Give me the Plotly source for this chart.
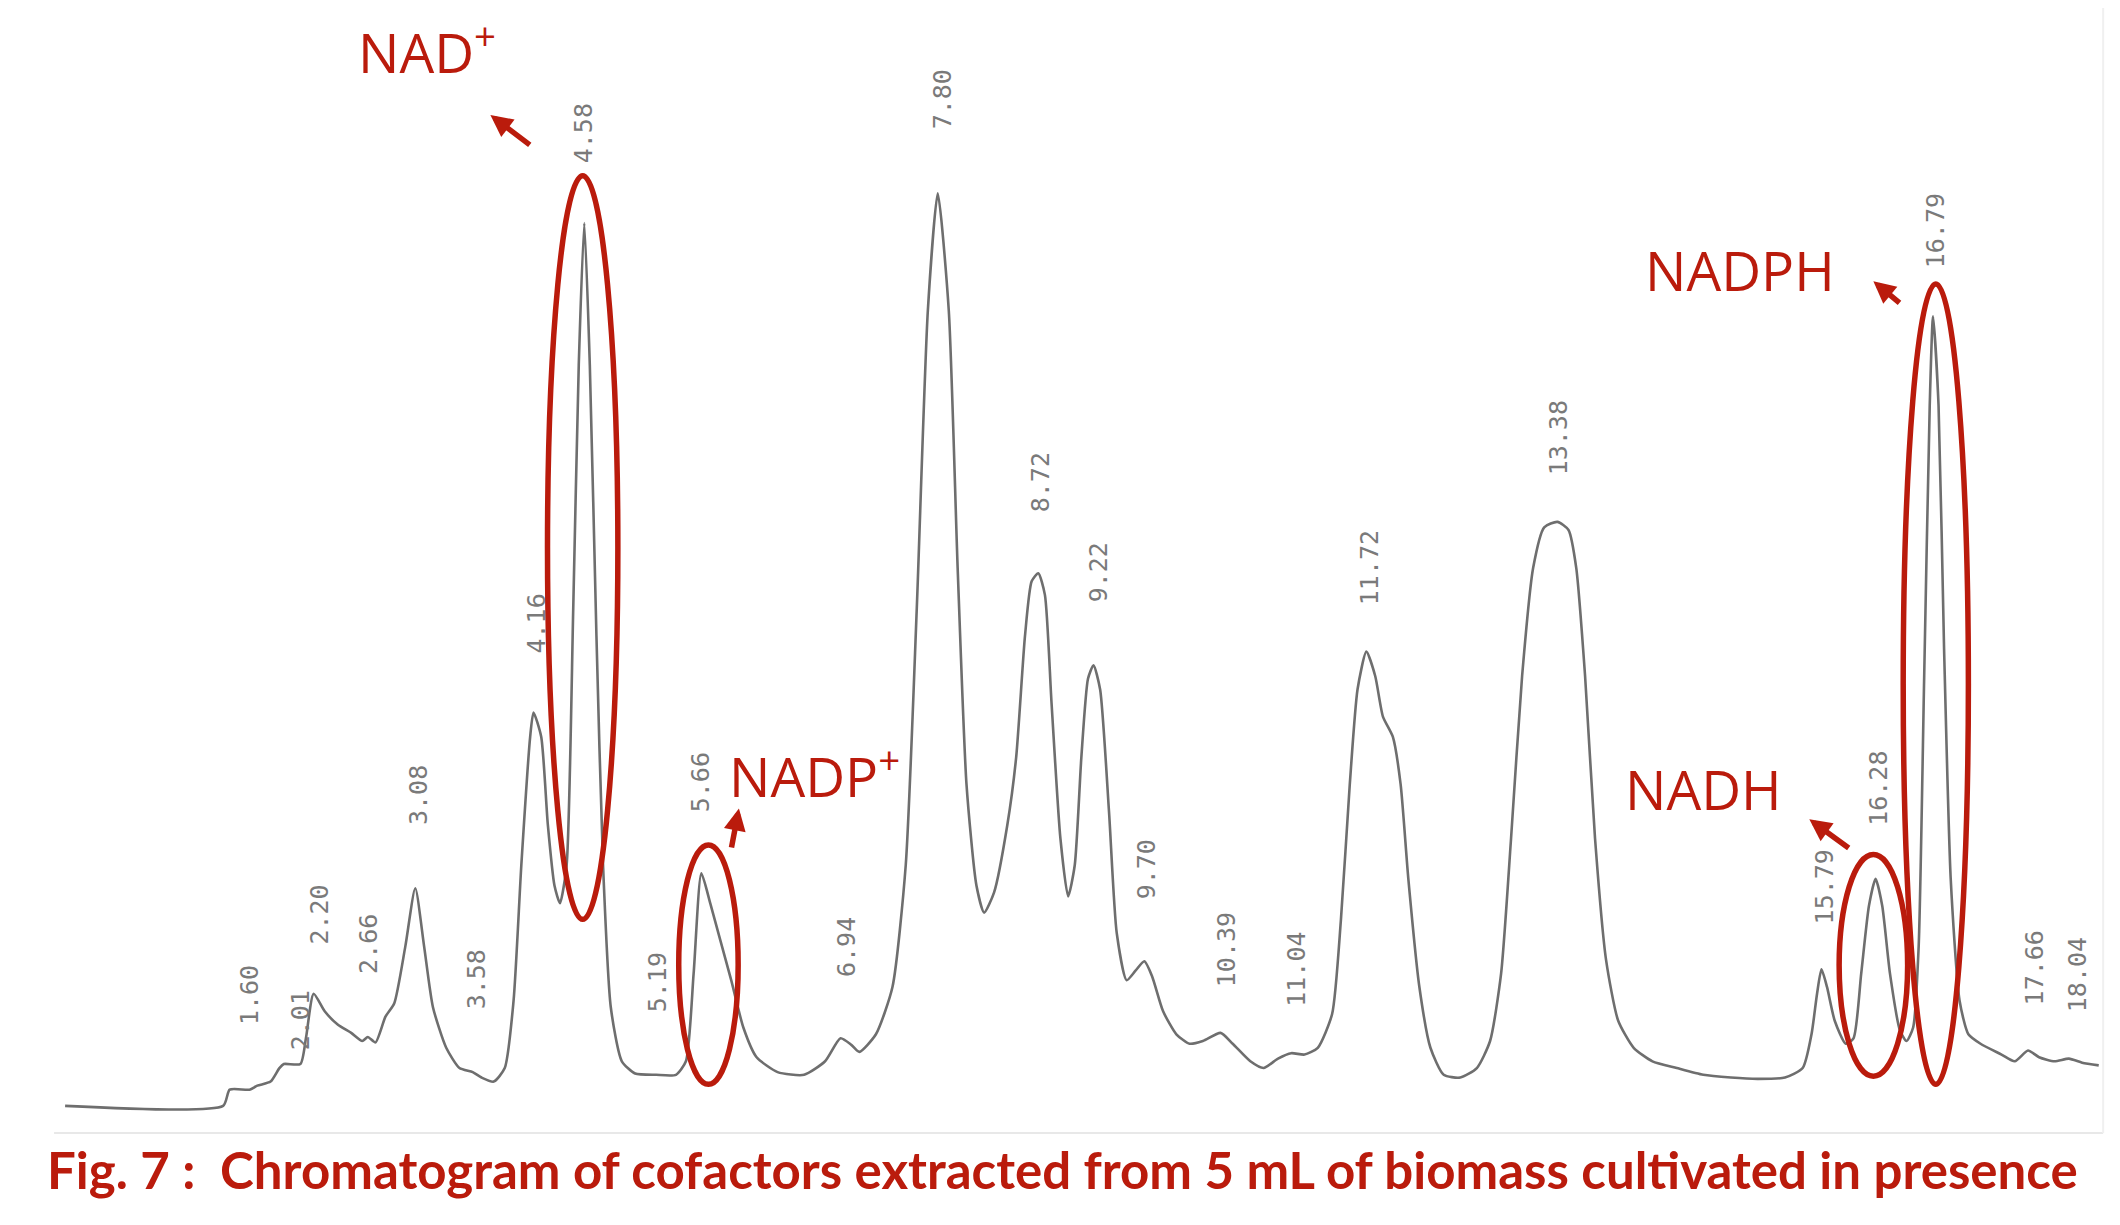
import plotly.graph_objects as go

# ---- trace: retention time (min) and detector signal (a.u.) ----
time_min = [-0.12, 1.31, 1.37, 1.55, 1.62, 1.74, 1.82, 1.86, 2.01, 2.06, 2.13, 2.23, 2.35, 2.47, 2.57,
            2.62, 2.69, 2.78, 2.86, 2.96, 3.05, 3.13, 3.21, 3.33, 3.45, 3.57, 3.65, 3.76, 3.86, 3.94,
            4.01, 4.09, 4.12, 4.19, 4.25, 4.31, 4.36, 4.42, 4.48, 4.53, 4.58, 4.63, 4.69, 4.75, 4.82,
            4.92, 5.04, 5.23, 5.41, 5.50, 5.57, 5.64, 5.72, 5.81, 5.91, 6.02, 6.14, 6.33, 6.57, 6.76,
            6.90, 7.00, 7.07, 7.22, 7.37, 7.49, 7.59, 7.69, 7.78, 7.88, 7.96, 8.04, 8.13, 8.20, 8.29,
            8.41, 8.49, 8.57, 8.63, 8.69, 8.75, 8.81, 8.89, 8.96, 9.02, 9.08, 9.14, 9.19, 9.25, 9.33,
            9.40, 9.49, 9.57, 9.65, 9.72, 9.82, 9.94, 10.06, 10.18, 10.34, 10.45, 10.61, 10.73, 10.86,
            10.98, 11.10, 11.22, 11.35, 11.43, 11.51, 11.58, 11.66, 11.74, 11.81, 11.90, 11.97, 12.04,
            12.14, 12.24, 12.36, 12.51, 12.66, 12.78, 12.88, 12.97, 13.07, 13.17, 13.27, 13.39, 13.49,
            13.56, 13.64, 13.73, 13.83, 13.94, 14.08, 14.25, 14.47, 14.71, 14.96, 15.20, 15.45, 15.61,
            15.69, 15.74, 15.78, 15.83, 15.90, 16.00, 16.07, 16.14, 16.21, 16.27, 16.33, 16.40, 16.49,
            16.55, 16.61, 16.66, 16.71, 16.76, 16.79, 16.84, 16.89, 16.95, 17.03, 17.11, 17.22, 17.41,
            17.53, 17.65, 17.75, 17.89, 18.02, 18.14, 18.29]
signal = [0, 0, 12, 12, 15, 18, 28, 31, 31, 50, 83, 70, 60, 54, 48,
          51, 47, 66, 76, 118, 161, 118, 73, 43, 28, 25, 21, 18, 28, 78,
          178, 273, 291, 273, 208, 163, 150, 178, 368, 548, 653, 548, 348, 178, 73,
          33, 24, 23, 23, 33, 98, 172, 150, 123, 93, 58, 36, 25, 23, 33,
          50, 45, 40, 53, 88, 178, 368, 588, 675, 588, 398, 238, 163, 143, 158,
          208, 258, 348, 388, 394, 378, 298, 198, 155, 178, 258, 316, 326, 308, 218,
          128, 93, 100, 107, 96, 70, 53, 46, 48, 54, 46, 33, 28, 35,
          39, 38, 43, 68, 138, 238, 308, 336, 318, 288, 273, 238, 168,
          88, 43, 23, 21, 28, 48, 98, 198, 318, 398, 428, 432, 426,
          398, 318, 198, 108, 63, 43, 33, 28, 23, 21, 20, 21, 28,
          53, 83, 101, 88, 63, 46, 50, 98, 148, 168, 148, 98, 56,
          48, 58, 118, 318, 518, 584, 518, 338, 168, 78, 53, 46, 38,
          33, 41, 36, 33, 35, 32, 30]

# ---- printed retention-time labels ----
rt_labels = ["1.60", "2.01", "2.20", "2.66", "3.08", "3.58", "4.16", "4.58", "5.19", "5.66",
             "6.94", "7.80", "8.72", "9.22", "9.70", "10.39", "11.04", "11.72", "13.38",
             "15.79", "16.28", "16.79", "17.66", "18.04"]
rt_label_x = [1.55, 2.01, 2.18, 2.62, 3.08, 3.60, 4.15, 4.58, 5.25, 5.64,
              6.96, 7.82, 8.71, 9.23, 9.67, 10.39, 11.02, 11.69, 13.40,
              15.81, 16.30, 16.82, 17.71, 18.10]
rt_label_y = [58, 40, 118, 96, 206, 70, 333, 696, 68, 216,
              94, 721, 438, 371, 151, 86, 72, 369, 465,
              133, 206, 618, 73, 68]

# ---- cofactor annotations ----
cofactors = ["NAD<sup>+</sup>", "NADP<sup>+</sup>", "NADPH", "NADH"]

RED = "#BA1B0C"
GRAY = "#6E6E6E"

fig = go.Figure()
fig.add_trace(go.Scatter(x=time_min, y=signal, mode="lines",
                         line=dict(color=GRAY, width=2.6, shape="spline", smoothing=0.6),
                         hoverinfo="skip", showlegend=False))

annotations = []
for txt, x, y in zip(rt_labels, rt_label_x, rt_label_y):
    annotations.append(dict(x=x, y=y, text=txt, textangle=-90, showarrow=False,
                            xanchor="center", yanchor="bottom",
                            font=dict(family="DejaVu Sans Mono", size=25, color="#7A7A7A")))

# cofactor names
name_pos = [(2.51, 782), (5.87, 246), (14.16, 619), (13.98, 235)]
for txt, (x, y) in zip(cofactors, name_pos):
    annotations.append(dict(x=x, y=y, text=txt, showarrow=False, xanchor="left", yanchor="middle",
                            font=dict(family="Open Sans", size=55, color=RED)))

# arrows (tail -> head)
arrows = [((4.10, 710), (3.73, 733)), ((5.91, 190), (5.98, 220)),
          ((16.04, 190), (15.67, 212)), ((16.50, 593), (16.25, 610))]
for (tx, ty), (hx, hy) in arrows:
    annotations.append(dict(x=hx, y=hy, ax=tx, ay=ty, axref="x", ayref="y", xref="x", yref="y",
                            text="", showarrow=True, arrowhead=2, arrowsize=0.8, arrowwidth=5.5,
                            arrowcolor=RED, standoff=0, startstandoff=0))

# caption
annotations.append(dict(x=-0.30, y=-47, text="<b>Fig. 7 :  Chromatogram of cofactors extracted from 5 mL of biomass cultivated in presence</b>",
                        showarrow=False, xanchor="left", yanchor="middle",
                        font=dict(family="Lato", size=51, color=RED)))

shapes = []
# faint scan frame
shapes.append(dict(type="line", x0=-0.22, x1=18.33, y0=-20, y1=-20, line=dict(color="#E8E8E8", width=2)))
shapes.append(dict(type="line", x0=18.33, x1=18.33, y0=-20, y1=818, line=dict(color="#F0F0F0", width=2)))
# ellipses around cofactor peaks
ellipses = [(4.247, 4.884, 138, 688), (5.435, 5.973, 16, 193),
            (15.94, 16.56, 22, 186), (16.52, 17.11, 16, 608)]
for x0, x1, y0, y1 in ellipses:
    shapes.append(dict(type="circle", xref="x", yref="y", x0=x0, x1=x1, y0=y0, y1=y1,
                       line=dict(color=RED, width=5.5)))

# the page body adds an 8 px offset; ranges compensate so marks land where the reference has them
fig.update_layout(width=2120, height=1225, margin=dict(l=0, r=0, t=0, b=0),
                  paper_bgcolor="white", plot_bgcolor="white",
                  xaxis=dict(range=[-0.637, 18.555], visible=False, fixedrange=True),
                  yaxis=dict(range=[-94.0, 812.1], visible=False, fixedrange=True),
                  annotations=annotations, shapes=shapes)

fig.write_html("out.html")
